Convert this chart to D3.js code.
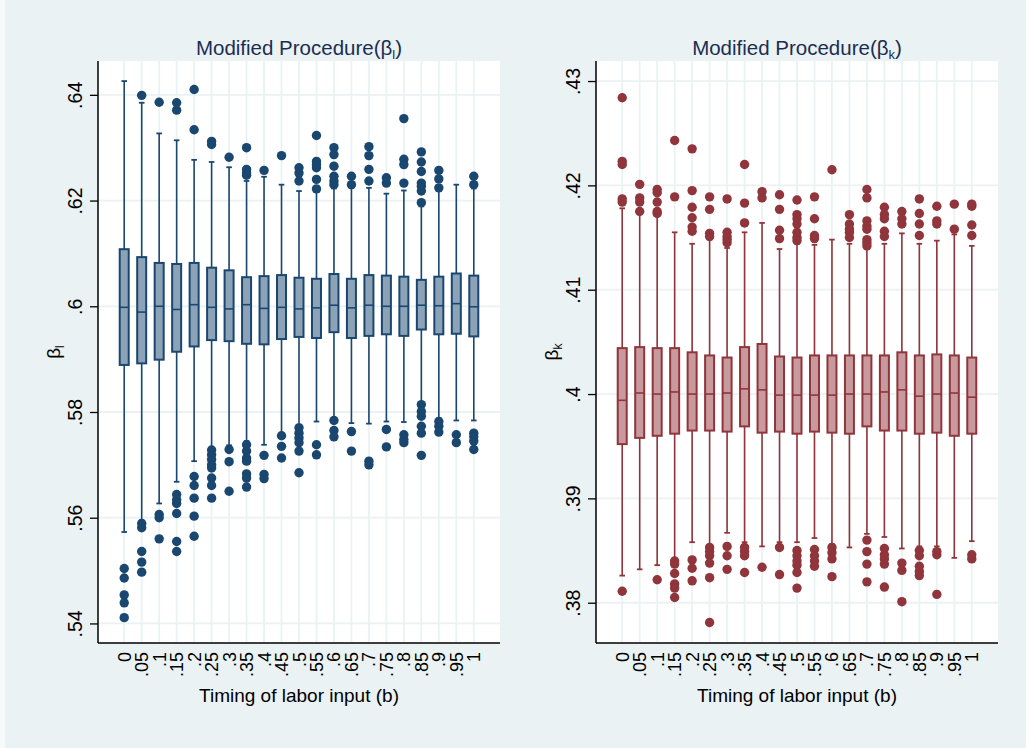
<!DOCTYPE html>
<html>
<head>
<meta charset="utf-8">
<script src="https://cdn.jsdelivr.net/npm/d3@7"></script>
<style>
  body { margin: 0; background: #eaf2f3; }
  svg { display: block; font-family: "Liberation Sans", Arial, sans-serif; }
</style>
</head>
<body>
<script>
var width = 1026,
    height = 748;

// x categories: timing of labor input (b)
var cats = ["0", ".05", ".1", ".15", ".2", ".25", ".3", ".35", ".4", ".45", ".5",
            ".55", ".6", ".65", ".7", ".75", ".8", ".85", ".9", ".95", "1"];

// ---- beta_l panel ----
var lTicks = [.54, .56, .58, .6, .62, .64];
var lLabels = [".54", ".56", ".58", ".6", ".62", ".64"];
var lLow  = [.5573, .5595, .5627, .5668, .5707, .5732, .5737, .5745, .5738, .5760, .5776, .5782, .5789, .5779, .5778, .5782, .5781, .5817, .5788, .5784, .5784];
var lQ1   = [.5889, .5892, .5899, .5914, .5924, .5936, .5934, .5929, .5928, .5938, .5942, .5940, .5951, .5940, .5944, .5947, .5944, .5956, .5947, .5948, .5943];
var lMed  = [.5998, .5989, .6000, .5994, .6003, .5998, .5995, .6003, .5996, .5998, .5995, .5997, .6002, .5997, .6002, .6000, .6000, .6002, .6001, .6005, .5999];
var lQ3   = [.6108, .6093, .6082, .6080, .6082, .6073, .6068, .6055, .6057, .6059, .6054, .6052, .6061, .6052, .6059, .6058, .6056, .6050, .6056, .6062, .6058];
var lHigh = [.6426, .6385, .6327, .6314, .6277, .6273, .6263, .6237, .6245, .6230, .6218, .6216, .6223, .6224, .6224, .6213, .6219, .6189, .6219, .6230, .6223];
var lOut = [
  [.5504, .5486, .5454, .5439, .5411],
  [.6399, .5589, .5581, .5536, .5516, .5497],
  [.6386, .5606, .5600, .5560],
  [.6385, .6371, .5644, .5634, .5627, .5608, .5555, .5536],
  [.6410, .6334, .5678, .5661, .5637, .5603, .5565],
  [.6312, .6306, .5728, .5719, .5710, .5700, .5694, .5675, .5661, .5637],
  [.6282, .5729, .5706, .5650],
  [.6300, .6259, .6252, .6248, .5738, .5726, .5713, .5707, .5683, .5675, .5658],
  [.6257, .5718, .5682, .5674],
  [.6285, .5755, .5735, .5713],
  [.6262, .6252, .6237, .5770, .5760, .5751, .5742, .5726, .5685],
  [.6323, .6274, .6268, .6262, .6240, .6222, .5738, .5719],
  [.6300, .6287, .6265, .6246, .6237, .6230, .5784, .5765, .5753],
  [.6246, .6230, .5763, .5726],
  [.6302, .6285, .6259, .6237, .5707, .5700],
  [.6243, .6233, .5767, .5734],
  [.6355, .6278, .6268, .6233, .5757, .5748, .5742],
  [.6292, .6273, .6255, .6233, .6227, .6218, .6196, .5814, .5801, .5792, .5773, .5760, .5718],
  [.6257, .6241, .6224, .5782, .5773, .5762],
  [.5757, .5742],
  [.6246, .6230, .5760, .5753, .5745, .5729]
];

// ---- beta_k panel ----
var kTicks = [.38, .39, .4, .41, .42, .43];
var kLabels = [".38", ".39", ".4", ".41", ".42", ".43"];
var kLow  = [.3826, .3832, .3836, .3841, .3858, .3854, .3867, .3858, .3854, .3858, .3858, .3862, .3856, .3853, .3866, .3863, .3852, .3854, .3854, .3843, .3859];
var kQ1   = [.3952, .3958, .3960, .3962, .3965, .3965, .3964, .3969, .3963, .3964, .3962, .3964, .3963, .3962, .3969, .3965, .3965, .3962, .3963, .3960, .3962];
var kMed  = [.3994, .4001, .4000, .4002, .4000, .4000, .4001, .4005, .4004, .3999, .3999, .3999, .3999, .4000, .4000, .4002, .4004, .3998, .4000, .4001, .3997];
var kQ3   = [.4044, .4045, .4044, .4044, .4040, .4037, .4035, .4045, .4048, .4036, .4035, .4037, .4037, .4037, .4037, .4037, .4040, .4037, .4038, .4037, .4035];
var kHigh = [.4178, .4173, .4171, .4155, .4144, .4148, .4140, .4155, .4164, .4139, .4144, .4143, .4148, .4144, .4139, .4144, .4154, .4144, .4147, .4153, .4142];
var kOut = [
  [.4284, .4223, .4220, .4187, .4184, .3811],
  [.4201, .4188, .4184, .4175],
  [.4196, .4193, .4184, .4175, .4173, .3822],
  [.4243, .4189, .3840, .3837, .3828, .3818, .3814, .3805],
  [.4235, .4195, .4179, .4169, .4160, .4156, .3841, .3833, .3821],
  [.4189, .4177, .4154, .4151, .3853, .3849, .3845, .3838, .3824, .3781],
  [.4187, .4155, .4151, .4148, .4145, .3854, .3845, .3832],
  [.4220, .4183, .4164, .3853, .3849, .3845, .3829],
  [.4194, .4188, .3834],
  [.4191, .4177, .4157, .4149, .3853, .3827],
  [.4186, .4172, .4168, .4163, .4155, .4150, .4147, .3850, .3845, .3840, .3836, .3829, .3814],
  [.4189, .4168, .4152, .4149, .3851, .3845, .3840, .3835],
  [.4215, .3853, .3848, .3842, .3825],
  [.4172, .4163, .4158, .4155, .4150],
  [.4196, .4188, .4166, .4161, .4158, .4148, .4145, .4142, .3860, .3849, .3837, .3820],
  [.4179, .4172, .4168, .4156, .4151, .3852, .3846, .3842, .3837, .3815],
  [.4175, .4168, .4163, .3838, .3831, .3801],
  [.4187, .4173, .4163, .4152, .3850, .3845, .3835, .3830, .3826],
  [.4180, .4166, .4163, .3849, .3846, .3808],
  [.4182, .4158],
  [.4182, .4180, .4162, .4152, .3846, .3842]
];

var svg = d3.select("body").append("svg")
    .attr("width", width)
    .attr("height", height);

svg.append("rect")
    .attr("width", width)
    .attr("height", height)
    .attr("fill", "#eaf2f3");
svg.append("rect")
    .attr("width", 5)
    .attr("height", height)
    .attr("fill", "#f7fafa");

var plotTop = 61, plotBottom = 643;

drawPanel({
  x0: 98, x1: 500,
  domain: [.5363, .6464],
  ticks: lTicks, labels: lLabels,
  low: lLow, q1: lQ1, med: lMed, q3: lQ3, high: lHigh, out: lOut,
  stroke: "#1a476f", fill: "#8ca3b7",
  sub: "l"
});

drawPanel({
  x0: 596, x1: 998,
  domain: [.37614, .43192],
  ticks: kTicks, labels: kLabels,
  low: kLow, q1: kQ1, med: kMed, q3: kQ3, high: kHigh, out: kOut,
  stroke: "#90353b", fill: "#c89a9d",
  sub: "k"
});

function drawPanel(p) {
  var x = d3.scalePoint()
      .domain(cats)
      .range([p.x0, p.x1])
      .padding(1.5);

  var y = d3.scaleLinear()
      .domain(p.domain)
      .range([plotBottom, plotTop]);

  var g = svg.append("g");

  // plot region
  g.append("rect")
      .attr("x", p.x0)
      .attr("y", plotTop)
      .attr("width", p.x1 - p.x0)
      .attr("height", plotBottom - plotTop)
      .attr("fill", "#ffffff");

  // grid
  g.selectAll(".vgrid")
      .data(cats)
      .enter().append("line")
      .attr("x1", function(d) { return x(d); })
      .attr("x2", function(d) { return x(d); })
      .attr("y1", plotTop)
      .attr("y2", plotBottom)
      .style("stroke", "#eaf2f3")
      .style("stroke-width", 1.8);

  g.selectAll(".hgrid")
      .data(p.ticks)
      .enter().append("line")
      .attr("x1", p.x0)
      .attr("x2", p.x1)
      .attr("y1", function(d) { return y(d); })
      .attr("y2", function(d) { return y(d); })
      .style("stroke", "#eaf2f3")
      .style("stroke-width", 1.8);

  var boxes = cats.map(function(c, i) {
    return {cat: c, low: p.low[i], q1: p.q1[i], med: p.med[i], q3: p.q3[i], high: p.high[i], out: p.out[i]};
  });

  var b = g.selectAll(".box")
      .data(boxes)
      .enter().append("g")
      .attr("class", "box")
      .attr("transform", function(d) { return "translate(" + x(d.cat) + ",0)"; });

  // whiskers
  b.append("line")
      .attr("y1", function(d) { return y(d.high); })
      .attr("y2", function(d) { return y(d.q3); })
      .style("stroke", p.stroke)
      .style("stroke-width", 1.6);
  b.append("line")
      .attr("y1", function(d) { return y(d.q1); })
      .attr("y2", function(d) { return y(d.low); })
      .style("stroke", p.stroke)
      .style("stroke-width", 1.6);
  // caps
  b.append("line")
      .attr("x1", -2.8).attr("x2", 2.8)
      .attr("y1", function(d) { return y(d.high); })
      .attr("y2", function(d) { return y(d.high); })
      .style("stroke", p.stroke)
      .style("stroke-width", 1.8);
  b.append("line")
      .attr("x1", -2.8).attr("x2", 2.8)
      .attr("y1", function(d) { return y(d.low); })
      .attr("y2", function(d) { return y(d.low); })
      .style("stroke", p.stroke)
      .style("stroke-width", 1.8);

  // box + median
  b.append("rect")
      .attr("x", -4.5)
      .attr("width", 9)
      .attr("y", function(d) { return y(d.q3); })
      .attr("height", function(d) { return y(d.q1) - y(d.q3); })
      .style("fill", p.fill)
      .style("stroke", p.stroke)
      .style("stroke-width", 2);
  b.append("line")
      .attr("x1", -4.5).attr("x2", 4.5)
      .attr("y1", function(d) { return y(d.med); })
      .attr("y2", function(d) { return y(d.med); })
      .style("stroke", p.stroke)
      .style("stroke-width", 1.6);

  // outside values
  b.selectAll("circle")
      .data(function(d) { return d.out; })
      .enter().append("circle")
      .attr("cy", function(d) { return y(d); })
      .attr("r", 4.7)
      .style("fill", p.stroke);

  // y axis
  var yAxis = g.append("g")
      .attr("transform", "translate(" + p.x0 + ",0)")
      .call(d3.axisLeft(y)
          .tickValues(p.ticks)
          .tickFormat(function(d, i) { return p.labels[i]; })
          .tickSize(8)
          .tickPadding(0));
  yAxis.select(".domain")
      .attr("d", "M0," + plotTop + "V" + plotBottom)
      .style("stroke", "#000")
      .style("stroke-width", 1.5);
  yAxis.selectAll(".tick line").style("stroke", "#000").style("stroke-width", 1.3);
  yAxis.selectAll(".tick text")
      .attr("x", null).attr("dy", null)
      .attr("transform", "translate(-16,0) rotate(-90)")
      .attr("text-anchor", "middle")
      .style("font-size", "19.5px")
      .style("font-family", "Liberation Sans, Arial, sans-serif")
      .style("fill", "#000");

  // x axis
  var xAxis = g.append("g")
      .attr("transform", "translate(0," + plotBottom + ")")
      .call(d3.axisBottom(x).tickSize(0).tickPadding(0));
  xAxis.select(".domain")
      .attr("d", "M" + p.x0 + ",0H" + p.x1)
      .style("stroke", "#000")
      .style("stroke-width", 1.5);
  xAxis.selectAll(".tick text")
      .attr("y", null).attr("dy", null)
      .attr("transform", "translate(0,9) rotate(-90)")
      .attr("text-anchor", "end")
      .attr("dominant-baseline", "central")
      .style("font-size", "18px")
      .style("font-family", "Liberation Sans, Arial, sans-serif")
      .style("fill", "#000");

  var cx = (p.x0 + p.x1) / 2,
      cy = (plotTop + plotBottom) / 2;

  // title
  var t = g.append("text")
      .attr("x", cx)
      .attr("y", 54.5)
      .attr("text-anchor", "middle")
      .style("font-size", "20.5px")
      .style("fill", "#1c2d52");
  t.append("tspan").text("Modified Procedure(β");
  t.append("tspan").attr("dy", 4).style("font-size", "13px").text(p.sub);
  t.append("tspan").attr("dy", -4).text(")");

  // axis titles
  g.append("text")
      .attr("x", cx)
      .attr("y", 701.5)
      .attr("text-anchor", "middle")
      .style("font-size", "19px")
      .style("fill", "#000")
      .text("Timing of labor input (b)");

  var yt = g.append("text")
      .attr("transform", "translate(" + (p.x0 - 38) + "," + cy + ") rotate(-90)")
      .attr("text-anchor", "middle")
      .style("font-size", "19px")
      .style("fill", "#000");
  yt.append("tspan").text("β");
  yt.append("tspan").attr("dy", 4).style("font-size", "12px").text(p.sub);
}
</script>
</body>
</html>
